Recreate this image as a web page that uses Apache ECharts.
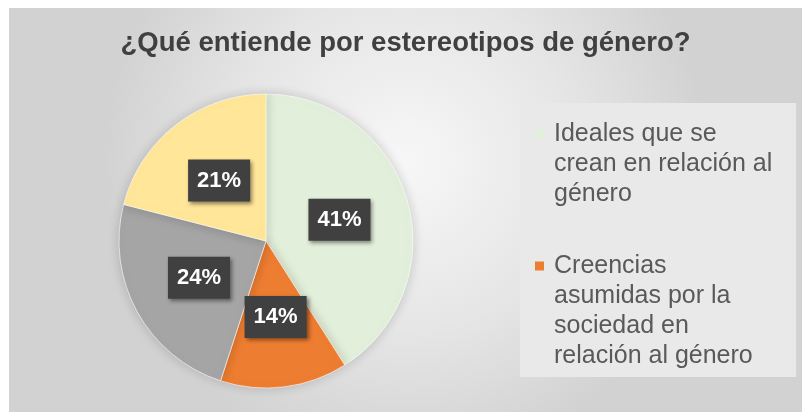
<!DOCTYPE html>
<html>
<head>
<meta charset="utf-8">
<script src="https://cdn.jsdelivr.net/npm/echarts@6/dist/echarts.min.js"></script>
<style>
  html, body { margin: 0; padding: 0; background: #ffffff; width: 802px; height: 412px; overflow: hidden; }
  #chart { position: absolute; left: 9px; top: 8px; width: 793px; height: 404px; }
</style>
</head>
<body>
<div id="chart"></div>
<script>
// Data
var titleText = '¿Qué entiende por estereotipos de género?';
var categories = [
  'Ideales que se crean en relación al género',
  'Creencias asumidas por la sociedad en relación al género',
  'Categoría 3',
  'Categoría 4'
];
var values = [41, 14, 24, 21];
var legendShown = [categories[0], categories[1]];
var legendLines = [
  ['Ideales que se', 'crean en relación al', 'género'],
  ['Creencias', 'asumidas por la', 'sociedad en', 'relación al género']
];
var colors = ['#e2efda', '#ed7d31', '#a5a5a5', '#ffe699'];

var LH = 30;
var FONT = 'Liberation Sans, Arial, sans-serif';
var richStyles = {
  t: { fontFamily: FONT, fontSize: 25, color: '#595959', lineHeight: LH },
  sp: { width: 19, height: 9 }
};
legendShown.forEach(function (n, i) {
  richStyles['sq' + i] = { width: 9, height: 9, backgroundColor: colors[i], lineHeight: LH };
  richStyles['g' + i] = { width: 10, height: 9 };
});

var chart = echarts.init(document.getElementById('chart'), null, { renderer: 'canvas' });
var option = {
  backgroundColor: {
    type: 'radial', x: 0.5, y: 0.38, r: 0.75,
    colorStops: [
      { offset: 0, color: '#f7f7f7' },
      { offset: 0.55, color: '#e6e6e6' },
      { offset: 1, color: '#d2d2d2' }
    ]
  },
  animation: false,
  color: colors,
  title: {
    text: titleText,
    left: 'center',
    top: 16,
    textStyle: {
      fontFamily: FONT,
      fontSize: 27.5,
      fontWeight: 'bold',
      color: '#404040'
    }
  },
  legend: {
    orient: 'vertical',
    left: 511,
    top: 95,
    height: 300,
    backgroundColor: '#e9e9e9',
    padding: [16, 24, 6, 9],
    itemWidth: 0,
    itemHeight: 9,
    itemGap: 42,
    itemStyle: { opacity: 0 },
    selectedMode: false,
    data: legendShown,
    formatter: function (name) {
      var i = legendShown.indexOf(name);
      return legendLines[i].map(function (line, k) {
        return (k === 0 ? '{sq' + i + '|}{g' + i + '|}' : '{sp|}') + '{t|' + line + '}';
      }).join('\n');
    },
    textStyle: {
      fontFamily: FONT,
      fontSize: 25,
      color: '#595959',
      lineHeight: LH,
      rich: richStyles
    }
  },
  series: [{
    type: 'pie',
    center: [257, 233],
    radius: 147,
    startAngle: 90,
    clockwise: true,
    label: {
      show: true,
      position: 'inside',
      formatter: '{d}%',
      color: '#ffffff',
      fontFamily: FONT,
      fontSize: 22,
      fontWeight: 'bold',
      backgroundColor: '#404040',
      padding: [10, 9],
      shadowBlur: 4,
      shadowColor: 'rgba(0,0,0,0.45)',
      shadowOffsetX: 2,
      shadowOffsetY: 2
    },
    labelLine: { show: false },
    itemStyle: {
      borderColor: 'rgba(255,255,255,0.6)',
      borderWidth: 1,
      shadowBlur: 12,
      shadowColor: 'rgba(0,0,0,0.18)'
    },
    emphasis: { disabled: true },
    data: categories.map(function (c, i) { return { name: c, value: values[i] }; })
  }]
};
chart.setOption(option);
</script>
</body>
</html>
